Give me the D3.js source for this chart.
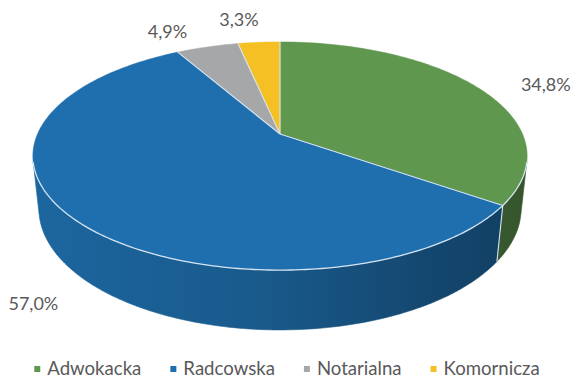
<!DOCTYPE html>
<html>
<head>
<meta charset="utf-8">
<script src="https://cdn.jsdelivr.net/npm/d3@7"></script>
<style>
  html, body { margin: 0; padding: 0; background: #ffffff; }
  svg { display: block; }
</style>
</head>
<body>
<svg id="chart" width="572" height="377"></svg>
<script>
// Share of each legal profession (percent)
const categories  = ["Adwokacka", "Radcowska", "Notarialna", "Komornicza"];
const shares      = [34.8, 57.0, 4.9, 3.3];
const shareLabels = ["34,8%", "57,0%", "4,9%", "3,3%"];

// Palette
const topColors = ["#5f974f", "#1f6fae", "#a6a7a9", "#f4c024"];
const textColor = "#595959";
const edgeColor = "#d6e4f2";

const svg = d3.select("#chart");
const width = 572, height = 377;

// ---- 3D camera for the tilted pie -------------------------------------
// World: x right, y away from viewer, z up; unit radius disc.
const centre = { x: 280, y: 134 };
const tilt = Math.asin(0.453);          // elevation of the camera
const persp = 0.193;                    // radius / camera distance ratio (scaled by cos tilt)
const camDist = Math.cos(tilt) / persp;
const focal = 242.5 * camDist;
const thickness = 0.245;

function project(x, y, z) {
  const depth = camDist + y * Math.cos(tilt) - z * Math.sin(tilt);
  const up = y * Math.sin(tilt) + z * Math.cos(tilt);
  return [centre.x + focal * x / depth, centre.y - focal * up / depth];
}
function rimPoints(a0, a1, z) {
  const n = Math.max(2, Math.ceil(Math.abs(a1 - a0) / (Math.PI / 180)));
  const angle = d3.scaleLinear().domain([0, n]).range([a0, a1]);
  return d3.range(n + 1).map(i => project(Math.sin(angle(i)), Math.cos(angle(i)), z));
}
const line = d3.line();

const pie = d3.pie().sort(null).value(d => d).startAngle(0).endAngle(2 * Math.PI);
const slices = pie(shares);

// ---- outer wall (only the part facing the camera) ---------------------
const wallFrom = Math.acos(-1 / (camDist * Math.cos(tilt)));
const wallTo = 2 * Math.PI - wallFrom;

const defs = svg.append("defs");
slices.forEach((s, i) => {
  const base = d3.color(topColors[i]);
  const g = defs.append("linearGradient")
    .attr("id", "wall" + i)
    .attr("gradientUnits", "userSpaceOnUse")
    .attr("x1", 32).attr("x2", 530).attr("y1", 0).attr("y2", 0);
  [[0, 0.25], [0.45, 0.6], [0.8, 1.25], [1, 1.65]].forEach(([o, d]) => {
    g.append("stop").attr("offset", o).attr("stop-color", base.darker(d).formatHex());
  });
});

const wallLayer = svg.append("g");
slices.forEach((s, i) => {
  const lo = Math.max(s.startAngle, wallFrom);
  const hi = Math.min(s.endAngle, wallTo);
  if (hi <= lo) return;
  const pts = rimPoints(lo, hi, 0).concat(rimPoints(hi, lo, -thickness));
  wallLayer.append("path")
    .attr("d", line(pts) + "Z")
    .attr("fill", `url(#wall${i})`)
    .attr("stroke", `url(#wall${i})`)
    .attr("stroke-width", 0.6);
  // seam between neighbouring walls
  if (s.startAngle > wallFrom && s.startAngle < wallTo) {
    const a = s.startAngle;
    wallLayer.append("path")
      .attr("d", line([project(Math.sin(a), Math.cos(a), 0), project(Math.sin(a), Math.cos(a), -thickness)]))
      .attr("stroke", edgeColor).attr("stroke-width", 1.1).attr("fill", "none");
  }
});

// ---- top face ----------------------------------------------------------
const faceLayer = svg.append("g");
slices.forEach((s, i) => {
  const pts = [project(0, 0, 0)].concat(rimPoints(s.startAngle, s.endAngle, 0));
  faceLayer.append("path")
    .attr("d", line(pts) + "Z")
    .attr("fill", topColors[i])
    .attr("stroke", topColors[i])
    .attr("stroke-width", 0.5);
});
// light edges: slice borders and front rim
slices.forEach(s => {
  const a = s.startAngle;
  faceLayer.append("path")
    .attr("d", line([project(0, 0, 0), project(Math.sin(a), Math.cos(a), 0)]))
    .attr("stroke", edgeColor).attr("stroke-width", 1.1).attr("fill", "none");
});
faceLayer.append("path")
  .attr("d", line(rimPoints(wallFrom, wallTo, 0)))
  .attr("stroke", edgeColor).attr("stroke-width", 1.3).attr("fill", "none");

// ---- value labels (outside the slices) --------------------------------
const labelShift = [[68, 3], [-40, 91], [-40, -9], [-20, -16]];
slices.forEach((s, i) => {
  const m = (s.startAngle + s.endAngle) / 2;
  const [px, py] = project(Math.sin(m), Math.cos(m), 0);
  svg.append("text")
    .attr("x", px + labelShift[i][0])
    .attr("y", py + labelShift[i][1])
    .attr("text-anchor", "middle")
    .attr("font-family", "Lato, 'Open Sans', sans-serif")
    .attr("font-size", 18)
    .attr("fill", textColor)
    .text(shareLabels[i]);
});

// ---- legend ------------------------------------------------------------
const legend = svg.append("g");
const items = legend.selectAll("g").data(categories).join("g");
items.append("rect")
  .attr("width", 6).attr("height", 6)
  .attr("y", 366)
  .attr("fill", (d, i) => topColors[i]);
items.append("text")
  .attr("x", 13).attr("y", 374.5)
  .attr("font-family", "Lato, 'Open Sans', sans-serif")
  .attr("font-size", 18.6)
  .attr("fill", textColor)
  .text(d => d);
let cursor = 0;
const offsets = [];
items.each(function () {
  const w = 13 + d3.select(this).select("text").node().getComputedTextLength();
  offsets.push(cursor);
  cursor += w + 29;
});
const legendWidth = cursor - 29;
const legendLeft = (width - legendWidth) / 2 + 1;
items.attr("transform", (d, i) => `translate(${legendLeft + offsets[i]},0)`);
</script>
</body>
</html>
